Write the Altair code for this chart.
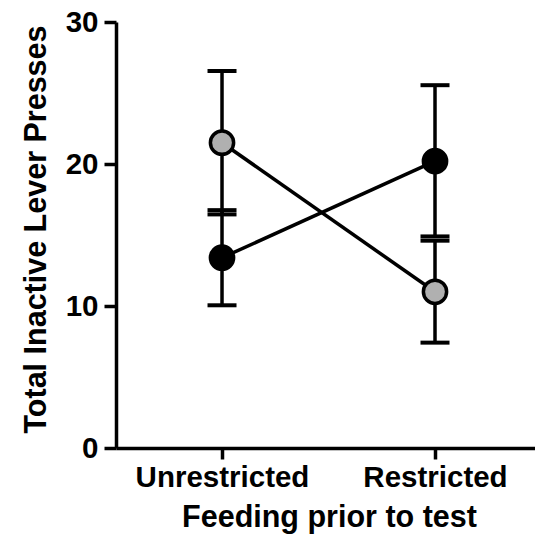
import altair as alt
import pandas as pd

conditions = ["Unrestricted", "Restricted"]
series = ["Gray group", "Black group"]
gray_mean = [21.5, 11.0]
gray_lower = [16.45, 7.42]
gray_upper = [26.55, 14.6]
black_mean = [13.4, 20.2]
black_lower = [10.05, 14.9]
black_upper = [16.75, 25.55]
y_ticks = [0, 10, 20, 30]

rows = []
for i, c in enumerate(conditions):
    rows.append({"cond": c, "group": series[0], "mean": gray_mean[i], "lo": gray_lower[i], "hi": gray_upper[i]})
    rows.append({"cond": c, "group": series[1], "mean": black_mean[i], "lo": black_lower[i], "hi": black_upper[i]})
df = pd.DataFrame(rows)

FONT = "Liberation Sans"

x_enc = alt.X(
    "cond:N",
    sort=conditions,
    scale=alt.Scale(type="point", domain=conditions, padding=0.4836, align=0.5146),
    axis=alt.Axis(
        title="Feeding prior to test",
        labelAngle=0,
        tickSize=11,
        tickWidth=3.5,
        domainWidth=3.5,
        domainColor="black",
        tickColor="black",
        labelPadding=4,
        labelFontSize=29.5,
        labelFont=FONT,
        labelFontWeight="bold",
        labelColor="black",
        titleFont=FONT,
        titleFontSize=30.5,
        titleFontWeight="bold",
        titleColor="black",
        titleX=213,
        titleY=78,
        titleBaseline="alphabetic",
        grid=False,
    ),
)

y_scale = alt.Scale(domain=[0, 30], nice=False)
y_axis = alt.Axis(
    title="Total Inactive Lever Presses",
    values=y_ticks,
    tickSize=12,
    tickWidth=3.5,
    domainWidth=3.5,
    domainColor="black",
    tickColor="black",
    labelPadding=6,
    labelFontSize=29.5,
    labelFont=FONT,
    labelFontWeight="bold",
    labelColor="black",
    titleFont=FONT,
    titleFontSize=30.5,
    titleFontWeight="bold",
    titleColor="black",
    titleX=-71,
    titleY=207,
    titleBaseline="alphabetic",
    grid=False,
)

base = alt.Chart(df)

bars = base.mark_rule(color="black", strokeWidth=3.5).encode(
    x=x_enc,
    y=alt.Y("lo:Q", scale=y_scale, axis=y_axis),
    y2="hi:Q",
)
caps_lo = base.mark_tick(color="black", thickness=4, size=29, opacity=1).encode(
    x="cond:N", y=alt.Y("lo:Q", scale=y_scale)
)
caps_hi = base.mark_tick(color="black", thickness=4, size=29, opacity=1).encode(
    x="cond:N", y=alt.Y("hi:Q", scale=y_scale)
)
lines = base.mark_line(color="black", strokeWidth=3.5).encode(
    x="cond:N",
    y=alt.Y("mean:Q", scale=y_scale),
    detail="group:N",
    order=alt.Order("cond:N", sort="descending"),
)
points = base.mark_point(filled=True, shape="circle", size=540, stroke="black", strokeWidth=3.5, opacity=1).encode(
    x="cond:N",
    y=alt.Y("mean:Q", scale=y_scale),
    fill=alt.Fill("group:N", scale=alt.Scale(domain=series, range=["#b0b0b0", "#000000"]), legend=None),
)

chart = (
    alt.layer(bars, caps_lo, caps_hi, lines, points)
    .properties(
        width=419,
        height=426,
        autosize=alt.AutoSizeParams(type="none"),
        padding={"left": 116, "top": 22, "right": 0, "bottom": 104},
        background="white",
    )
    .configure_view(stroke=None)
)

chart.save("out.html", embed_options={"renderer": "svg", "actions": False})
